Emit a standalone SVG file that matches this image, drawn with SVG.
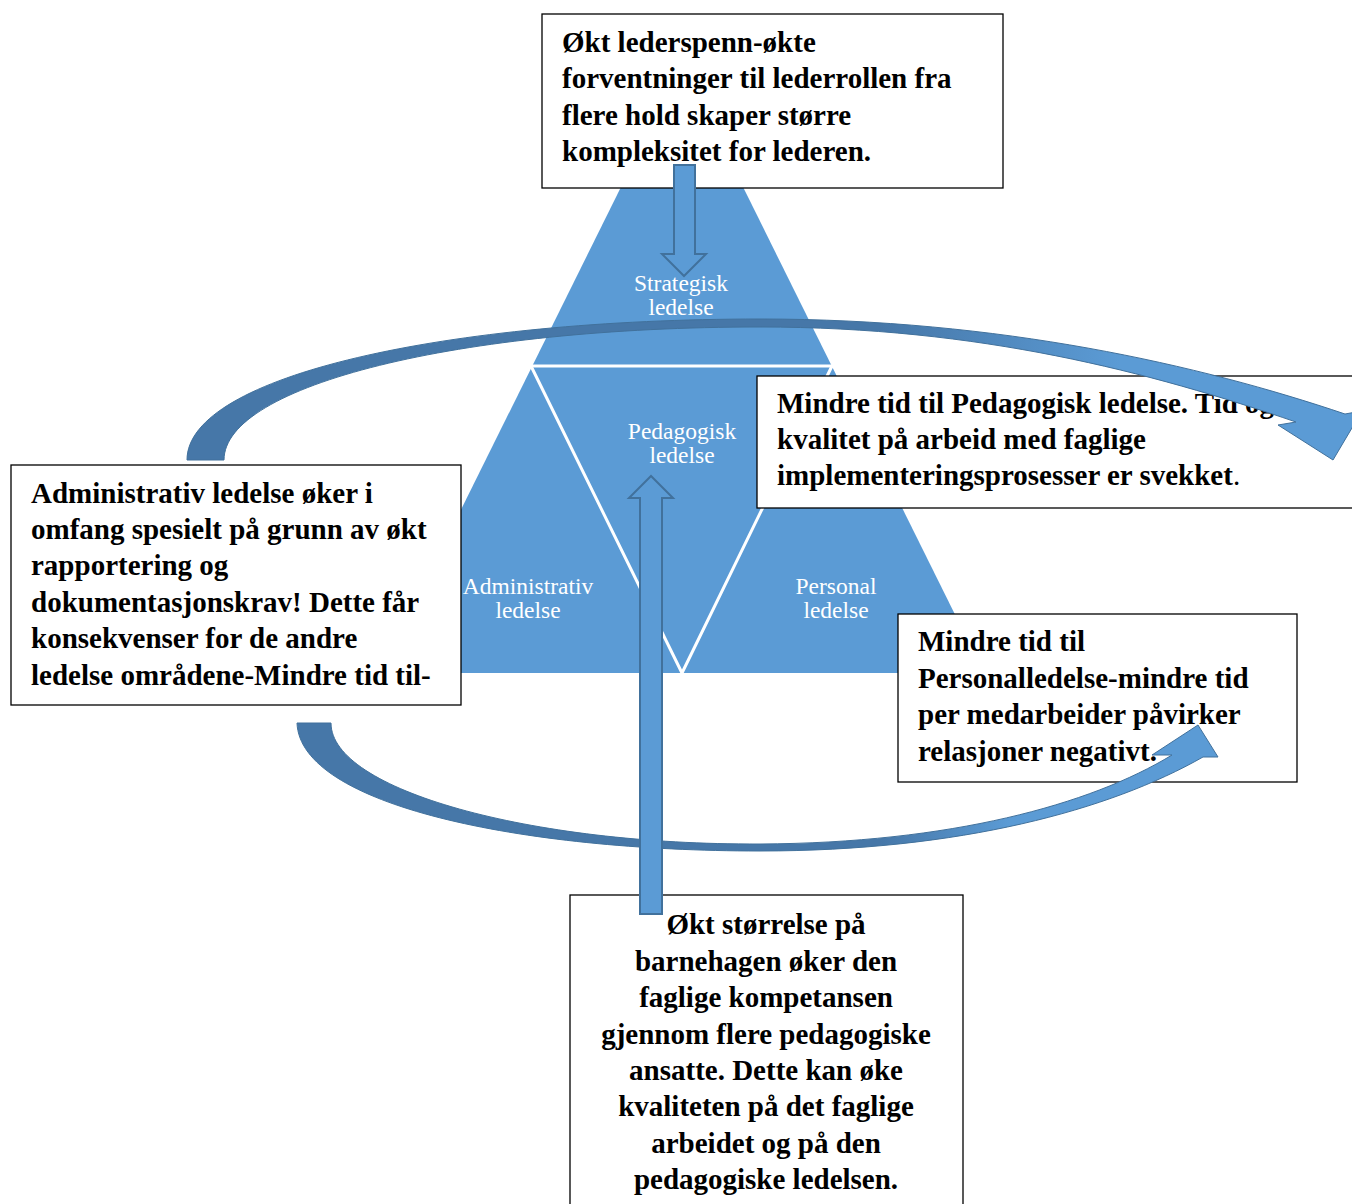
<svg xmlns="http://www.w3.org/2000/svg" width="1352" height="1204" viewBox="0 0 1352 1204">
<style>
.box{fill:#fff;stroke:#000;stroke-width:1.3}
.bt{font-family:"Liberation Serif","Times New Roman",serif;font-weight:bold;font-size:29px;fill:#000}
.lbl{font-family:"Liberation Serif","Times New Roman",serif;font-size:23.5px;fill:#fff;text-anchor:middle}
.sep{stroke:#fff;stroke-width:3;fill:none}
.sa{fill:#5B9BD5;stroke:#41719C;stroke-width:2}
.ca{stroke:#41719C;stroke-width:1}
</style>
<defs>
<linearGradient id="gUp" gradientUnits="userSpaceOnUse" x1="880" y1="0" x2="1120" y2="0">
<stop offset="0" stop-color="#4677A8"/><stop offset="1" stop-color="#5B9BD5"/>
</linearGradient>
<linearGradient id="gLo" gradientUnits="userSpaceOnUse" x1="880" y1="0" x2="1010" y2="0">
<stop offset="0" stop-color="#4677A8"/><stop offset="1" stop-color="#5B9BD5"/>
</linearGradient>
</defs>
<g id="pyramid">
<polygon points="682,64 380,673 984,673" fill="#5B9BD5"/>
<line class="sep" x1="528" y1="366" x2="835" y2="366"/>
<polyline class="sep" points="531,366 682,673 832,366"/>
<text class="lbl" x="681" y="291">Strategisk</text>
<text class="lbl" x="681" y="315">ledelse</text>
<text class="lbl" x="682" y="439">Pedagogisk</text>
<text class="lbl" x="682" y="463">ledelse</text>
<text class="lbl" x="528" y="594">Administrativ</text>
<text class="lbl" x="528" y="618">ledelse</text>
<text class="lbl" x="836" y="594">Personal</text>
<text class="lbl" x="836" y="618">ledelse</text>
</g>
<g id="box-top">
<rect class="box" x="542" y="14" width="461" height="174"/>
<text class="bt" x="562" y="52">Økt lederspenn-økte</text>
<text class="bt" x="562" y="88">forventninger til lederrollen fra</text>
<text class="bt" x="562" y="124.5">flere hold skaper større</text>
<text class="bt" x="562" y="161">kompleksitet for lederen.</text>
</g>
<g id="box-left">
<rect class="box" x="11" y="465" width="450" height="240"/>
<text class="bt" x="31" y="503">Administrativ ledelse øker i</text>
<text class="bt" x="31" y="539">omfang spesielt på grunn av økt</text>
<text class="bt" x="31" y="575">rapportering og</text>
<text class="bt" x="31" y="612">dokumentasjonskrav! Dette får</text>
<text class="bt" x="31" y="648">konsekvenser for de andre</text>
<text class="bt" x="31" y="685">ledelse områdene-Mindre tid til-</text>
</g>
<g id="box-right1">
<rect class="box" x="757" y="376" width="620" height="132"/>
<text class="bt" x="777" y="413">Mindre tid til Pedagogisk ledelse. Tid og</text>
<text class="bt" x="777" y="449">kvalitet på arbeid med faglige</text>
<text class="bt" x="777" y="485">implementeringsprosesser er svekket<tspan font-weight="normal">.</tspan></text>
</g>
<g id="box-right2">
<rect class="box" x="898" y="614" width="399" height="168"/>
<text class="bt" x="918" y="651">Mindre tid til</text>
<text class="bt" x="918" y="688">Personalledelse-mindre tid</text>
<text class="bt" x="918" y="724">per medarbeider påvirker</text>
<text class="bt" x="918" y="761">relasjoner negativt.</text>
</g>
<g id="box-bottom">
<rect class="box" x="570" y="895" width="393" height="330"/>
<g text-anchor="middle">
<text class="bt" x="766" y="934">Økt størrelse på</text>
<text class="bt" x="766" y="971">barnehagen øker den</text>
<text class="bt" x="766" y="1007">faglige kompetansen</text>
<text class="bt" x="766" y="1044">gjennom flere pedagogiske</text>
<text class="bt" x="766" y="1080">ansatte. Dette kan øke</text>
<text class="bt" x="766" y="1116">kvaliteten på det faglige</text>
<text class="bt" x="766" y="1153">arbeidet og på den</text>
<text class="bt" x="766" y="1189">pedagogiske ledelsen.</text>
</g>
</g>
<g id="connectors">
<path class="ca" fill="url(#gUp)" d="M187,460 C187,375 450,319 760,319 C1000,319 1200,365 1345,414 L1362,411 L1333,460 L1278,425 L1296,422 C1150,372 980,327 760,327 C460,327 224,385 224,460 Z"/>
<path class="ca" fill="url(#gLo)" d="M297,723 C300,805 520,851 760,851 C960,851 1110,810 1203,757 L1218,757 L1198,725 L1152,755 L1172,755 C1090,805 950,843 760,844 C530,845 331,790 331,723 Z"/>
<polygon class="sa" points="674,165 695,165 695,254 706,254 684,276 662,254 674,254"/>
<polygon class="sa" points="640,914 662,914 662,498 673,498 651,476 629,498 640,498"/>
</g>
</svg>
